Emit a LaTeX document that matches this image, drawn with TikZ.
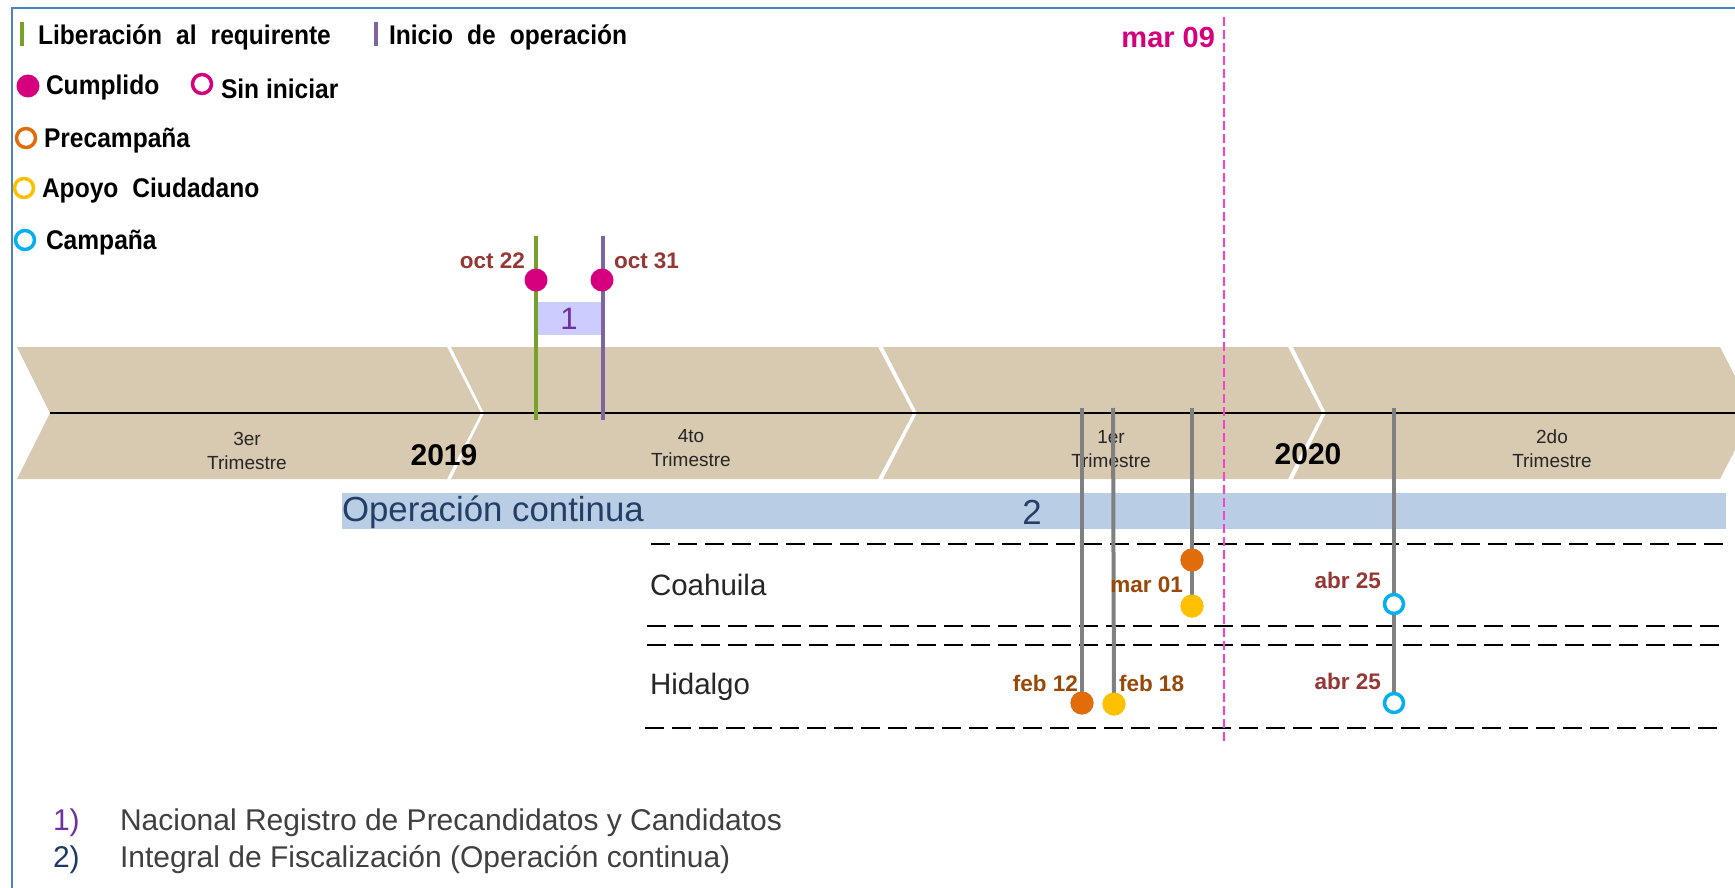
\documentclass[tikz,border=0pt]{standalone}
\usepackage{fontspec}
\setmainfont{Liberation Sans}
\newfontfamily\narrowsans[FakeStretch=0.91]{Liberation Sans}
\definecolor{tanc}{HTML}{D8C9B1}
\definecolor{opfill}{HTML}{B9CDE5}
\definecolor{optext}{HTML}{243F66}
\definecolor{magc}{HTML}{D6007E}
\definecolor{pinkd}{HTML}{FF3CCF}
\definecolor{greenc}{HTML}{77A12A}
\definecolor{purplec}{HTML}{8064A2}
\definecolor{lavc}{HTML}{CCCCFF}
\definecolor{onec}{HTML}{7030A0}
\definecolor{orangec}{HTML}{E36C0A}
\definecolor{yellowc}{HTML}{FFC000}
\definecolor{cyanc}{HTML}{00B0F0}
\definecolor{darkred}{HTML}{953735}
\definecolor{brownc}{HTML}{984807}
\definecolor{grayl}{HTML}{808080}
\definecolor{borderc}{HTML}{4F81BD}
\definecolor{notec}{HTML}{404040}
\definecolor{note2c}{HTML}{1F3864}
\newcommand{\wsp}{\hspace{14pt}}
\begin{document}
\begin{tikzpicture}[x=1pt,y=-1pt,
  every node/.style={inner sep=0pt, outer sep=0pt},
  lbl/.style={font=\narrowsans\fontsize{27}{29}\selectfont\bfseries, anchor=west, text=black},
  datel/.style={font=\fontsize{22.5}{25}\selectfont\bfseries},
  dot/.style={circle, minimum size=23pt, inner sep=0pt},
  ring/.style={circle, draw, line width=3.5pt, fill=white, minimum size=19pt, inner sep=0pt},
  tri/.style={font=\fontsize{19}{24}\selectfont, align=center, text=black!85},
  yearl/.style={font=\fontsize{30}{32}\selectfont\bfseries, text=black},
  lane/.style={black, line width=2.5pt, dash pattern=on 19pt off 8pt},
  grayline/.style={grayl, line width=4pt},
  lanelbl/.style={font=\fontsize{29.5}{31}\selectfont, text=black!85, anchor=west},
  notel/.style={font=\fontsize{30}{32}\selectfont, anchor=west}]
\useasboundingbox (0,0) rectangle (1735,888);
\fill[white] (0,0) rectangle (1735,888);
\draw[borderc, line width=2pt] (1745,8) -- (12,8) -- (12,898);

% legend
\coordinate (lg1a) at (22,22); \coordinate (lg1b) at (22,46);
\draw[greenc, line width=4pt] (lg1a) -- (lg1b);
\node[lbl] (tlib) at (38,37) {Liberación\wsp al\wsp requirente};
\coordinate (lg2a) at (376,22); \coordinate (lg2b) at (376,46);
\draw[purplec, line width=4pt] (lg2a) -- (lg2b);
\node[lbl] (tini) at (389,37) {Inicio\wsp de\wsp operación};
\node[dot, fill=magc] (lcum) at (28,86) {};
\node[lbl] (tcum) at (46,88) {Cumplido};
\node[ring, draw=magc] (lsin) at (202,84) {};
\node[lbl] (tsin) at (221,89) {Sin iniciar};
\node[ring, draw=orangec] (lpre) at (26,138) {};
\node[lbl] (tpre) at (44,141) {Precampaña};
\node[ring, draw=yellowc] (lapo) at (24,188) {};
\node[lbl] (tapo) at (42,191) {Apoyo\wsp Ciudadano};
\node[ring, draw=cyanc] (lcam) at (25,240) {};
\node[lbl] (tcam) at (46,243) {Campaña};

% chevrons
\fill[tanc] (17,347) -- (447,347) -- (481,413) -- (447,479) -- (17,479) -- (50,413) -- cycle;
\fill[tanc] (451,347) -- (878,347) -- (913,413) -- (878,479) -- (451,479) -- (484,413) -- cycle;
\fill[tanc] (883,347) -- (1288,347) -- (1322,413) -- (1288,479) -- (883,479) -- (917,413) -- cycle;
\fill[tanc] (1293,347) -- (1720,347) -- (1754,413) -- (1720,479) -- (1293,479) -- (1326,413) -- cycle;
\coordinate (axl) at (50,413); \coordinate (axr) at (1735,413);
\draw[black, line width=2.5pt] (axl) -- (axr);

\node[tri] (q3) at (247,451) {3er\\Trimestre};
\node[tri] (q4) at (691,448) {4to\\Trimestre};
\node[tri] (q1) at (1111,449) {1er\\Trimestre};
\node[tri] (q2) at (1552,449) {2do\\Trimestre};
\node[yearl] (y19) at (444,455) {2019};
\node[yearl] (y20) at (1308,454) {2020};

% release / start
\node[fill=lavc, minimum width=63pt, minimum height=33pt] (box1) at (569,318) {};
\node[font=\fontsize{31}{33}\selectfont, text=onec] (one) at (569,319) {1};
\coordinate (gtop) at (536,236); \coordinate (gbot) at (536,420);
\coordinate (ptop) at (603,236); \coordinate (pbot) at (603,420);
\draw[greenc, line width=4pt] (gtop) -- (gbot);
\draw[purplec, line width=4pt] (ptop) -- (pbot);
\node[dot, fill=magc] (c22) at (536,280) {};
\node[dot, fill=magc] (c31) at (602,280) {};
\node[datel, text=darkred, anchor=east] (l22) at (525,261) {oct 22};
\node[datel, text=darkred, anchor=west] (l31) at (614,261) {oct 31};

% operacion continua
\node[fill=opfill, minimum width=1384pt, minimum height=36pt, anchor=north west] (opbar) at (342,493) {};
\node[font=\fontsize{34.8}{36}\selectfont, text=optext, anchor=west] (optx) at (342,512) {Operación continua};
\node[font=\fontsize{34.8}{36}\selectfont, text=optext] (op2) at (1032,512) {2};

% lanes
\coordinate (d1a) at (651,544); \coordinate (d1b) at (1724,544);
\coordinate (d2a) at (647,626); \coordinate (d2b) at (1724,626);
\coordinate (d3a) at (647,645); \coordinate (d3b) at (1724,645);
\coordinate (d4a) at (645,728); \coordinate (d4b) at (1724,728);
\draw[lane] (d1a) -- (d1b);
\draw[lane] (d2a) -- (d2b);
\draw[lane] (d3a) -- (d3b);
\draw[lane] (d4a) -- (d4b);
\node[lanelbl] (coa) at (650,585) {Coahuila};
\node[lanelbl] (hid) at (650,687) {Hidalgo};

% gray milestone lines
\coordinate (gA) at (1082,408); \coordinate (gB) at (1113,408);
\coordinate (gC) at (1192,408); \coordinate (gD) at (1394,408);
\node[dot, fill=orangec] (hpre) at (1082,703) {};
\node[dot, fill=yellowc] (hapo) at (1114,704) {};
\node[dot, fill=orangec] (cpre) at (1192,560) {};
\node[dot, fill=yellowc] (capo) at (1192,606) {};
\draw[grayline] (gA) -- (hpre.center);
\draw[grayline] (gB) -- (hapo.center);
\draw[grayline] (gC) -- (capo.center);
\draw[grayline] (gD) -- (1394,703);
\node[dot, fill=orangec] at (hpre) {};
\node[dot, fill=yellowc] at (hapo) {};
\node[dot, fill=orangec] at (cpre) {};
\node[dot, fill=yellowc] at (capo) {};
\node[ring, draw=cyanc] (ccam) at (1394,604) {};
\node[ring, draw=cyanc] (hcam) at (1394,703) {};

\node[datel, text=brownc, anchor=east] (lm01) at (1183,585) {mar 01};
\node[datel, text=darkred, anchor=east] (la1) at (1381,580) {abr 25};
\node[datel, text=darkred, anchor=east] (la2) at (1381,681) {abr 25};
\node[datel, text=brownc, anchor=east] (lf12) at (1078,683) {feb 12};
\node[datel, text=brownc, anchor=west] (lf18) at (1119,683) {feb 18};

% today line
\coordinate (mtop) at (1224,17); \coordinate (mbot) at (1224,741);
\draw[pinkd, line width=2.5pt, dash pattern=on 9pt off 4pt] (mtop) -- (mbot);
\node[font=\fontsize{29}{31}\selectfont\bfseries, text=magc, anchor=east] (m09) at (1215,38) {mar 09};

% notes
\node[notel, text=onec] (n1) at (53,823) {1)};
\node[notel, text=notec] (n1t) at (120,823) {Nacional Registro de Precandidatos y Candidatos};
\node[notel, text=note2c] (n2) at (53,860) {2)};
\node[notel, text=notec] (n2t) at (120,860) {Integral de Fiscalización (Operación continua)};
\end{tikzpicture}
\end{document}
